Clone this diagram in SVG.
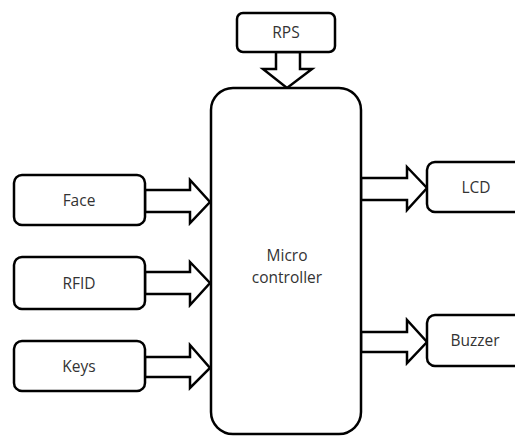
<svg xmlns="http://www.w3.org/2000/svg" width="515" height="436" viewBox="0 0 515 436">
<style>
.box{fill:#fff;stroke:#000;stroke-width:2.5}
.arr{fill:#fff;stroke:#000;stroke-width:2.5;stroke-linejoin:miter}
text{font-family:"Open Sans","Liberation Sans",sans-serif;font-size:15.5px;fill:#333;text-anchor:middle}
</style>
<rect width="515" height="436" fill="#fff"/>
<g id="connectors">
<polygon class="arr" points="276,52 300,52 300,69 312,69 287,88 263,69 276,69"/>
<polygon class="arr" points="145,190 190,190 190,180 210,202 190,223 190,212 145,212"/>
<polygon class="arr" points="145,272 190,272 190,262 210,283 190,305 190,294 145,294"/>
<polygon class="arr" points="145,357 190,357 190,345 210,368 190,388 190,377 145,377"/>
<polygon class="arr" points="361,178 407,178 407,167 427,188 407,210 407,200 361,200"/>
<polygon class="arr" points="361,332 407,332 407,320 427,342 407,363 407,352 361,352"/>
</g>
<g id="micro"><rect class="box" x="211" y="88" width="150" height="346" rx="22"/><text x="287" y="261">Micro</text><text x="287" y="283">controller</text></g>
<g id="rps"><rect class="box" x="237" y="13" width="98" height="39" rx="6"/><text x="286" y="38">RPS</text></g>
<g id="face"><rect class="box" x="14" y="175" width="131" height="50" rx="8"/><text x="79" y="206">Face</text></g>
<g id="rfid"><rect class="box" x="14" y="257" width="131" height="52" rx="8"/><text x="79" y="289">RFID</text></g>
<g id="keys"><rect class="box" x="14" y="341" width="131" height="50" rx="8"/><text x="79" y="372">Keys</text></g>
<g id="lcd"><rect class="box" x="427" y="162" width="100" height="50" rx="8"/><text x="476" y="193">LCD</text></g>
<g id="buzzer"><rect class="box" x="427" y="315" width="100" height="51" rx="8"/><text x="475" y="346">Buzzer</text></g>
</svg>
